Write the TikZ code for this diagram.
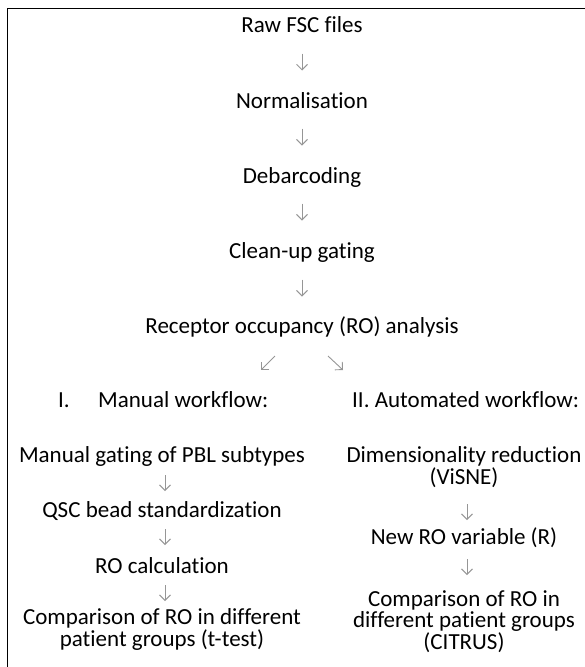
\documentclass[tikz,border=0pt]{standalone}
\usepackage{fontspec}
\setmainfont{Carlito}[Ligatures=NoCommon]
\usetikzlibrary{arrows.meta}
\definecolor{arrgray}{RGB}{150,150,150}
\begin{document}
\begin{tikzpicture}[x=1pt,y=-1pt,
  txt/.style={inner sep=0pt, anchor=base, align=center, font=\fontsize{23}{21.5}\selectfont},
  hdr/.style={inner sep=0pt, anchor=base west, font=\fontsize{23}{21.5}\selectfont},
  arr/.style={draw=arrgray, line width=0.9pt, -{Straight Barb[length=5.5pt,width=11pt,line width=0.9pt]}}]
\useasboundingbox (0,0) rectangle (585,667);
\draw[line width=1.8pt] (7.5,690) -- (7.5,8.5) -- (600,8.5);
% main column
\node[txt] (raw) at (302,32) {Raw FSC files};
\node[txt] (norm) at (302,108) {Normalisation};
\node[txt] (deb) at (302,183) {Debarcoding};
\node[txt] (clean) at (302,258) {Clean-up gating};
\node[txt] (rec) at (302,333) {Receptor occupancy (RO) analysis};
\draw[arr] ([yshift=-21.5pt]raw.base) -- ([yshift=37.5pt]norm.base);
\draw[arr] ([yshift=-20.5pt]norm.base) -- ([yshift=37.5pt]deb.base);
\draw[arr] ([yshift=-20.5pt]deb.base) -- ([yshift=37.5pt]clean.base);
\draw[arr] ([yshift=-21.5pt]clean.base) -- ([yshift=36.5pt]rec.base);
% headers
\node[hdr] (num1) at (58,407) {I.};
\node[hdr] (man) at (98,407) {Manual workflow:};
\node[hdr] (aut) at (352,407) {II. Automated workflow:};
\draw[arr] ([xshift=-27pt,yshift=-23pt]rec.base) -- ([xshift=163pt,yshift=37pt]man.base west);
\draw[arr] ([xshift=26pt,yshift=-23pt]rec.base) -- ([xshift=-9pt,yshift=37pt]aut.base west);
% left column
\node[txt] (mg) at (162,462) {Manual gating of PBL subtypes};
\node[txt] (qsc) at (162,517) {QSC bead standardization};
\node[txt] (roc) at (162,573) {RO calculation};
\node[txt] (cmpl) at (162,646) {Comparison of RO in different\\patient groups (t-test)};
\draw[arr] ([xshift=3pt,yshift=-13pt]mg.base) -- ([xshift=3pt,yshift=26pt]qsc.base);
\draw[arr] ([xshift=3pt,yshift=-12pt]qsc.base) -- ([xshift=3pt,yshift=28pt]roc.base);
\draw[arr] ([xshift=3pt,yshift=-12pt]roc.base) -- ([xshift=3pt,yshift=45pt]cmpl.base);
% right column
\node[txt] (dim) at (464,484) {Dimensionality reduction\\(ViSNE)};
\node[txt] (newro) at (464,544) {New RO variable (R)};
\node[txt] (cmpr) at (464,649) {Comparison of RO in\\different patient groups\\(CITRUS)};
\draw[arr] ([xshift=3pt,yshift=-20pt]dim.base) -- ([xshift=3pt,yshift=24pt]newro.base);
\draw[arr] ([xshift=3pt,yshift=-15pt]newro.base) -- ([xshift=3pt,yshift=74pt]cmpr.base);
\end{tikzpicture}
\end{document}
